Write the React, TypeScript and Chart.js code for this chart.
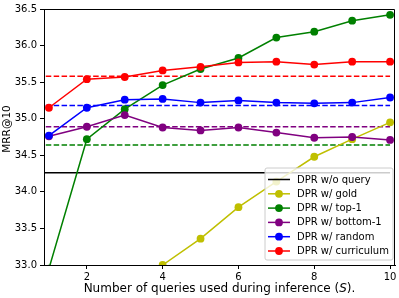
import React, { useEffect, useRef } from "react";
import { Chart, registerables } from "chart.js";

Chart.register(...registerables);

const queriesS = [1, 2, 3, 4, 5, 6, 7, 8, 9, 10];
const goldVals = [null, null, null, 33.0, 33.36, 33.79, 34.14, 34.48, 34.72, 34.95];
const top1Vals = [32.95, 34.72, 35.13, 35.46, 35.68, 35.83, 36.11, 36.19, 36.34, 36.42];
const bottom1Vals = [34.76, 34.89, 35.05, 34.88, 34.84, 34.88, 34.81, 34.74, 34.75, 34.71];
const randomVals = [34.77, 35.15, 35.26, 35.27, 35.22, 35.25, 35.22, 35.21, 35.22, 35.29];
const curriculumVals = [35.15, 35.54, 35.57, 35.66, 35.71, 35.77, 35.78, 35.74, 35.78, 35.78];

const noQueryVal = 34.26;
const top1Ref = 34.64;
const bottom1Ref = 34.89;
const randomRef = 35.18;
const curriculumRef = 35.58;
const refSpan = [0.5, 10];

const xTicks = [2, 4, 6, 8, 10];
const yTickLabels = ["33.0", "33.5", "34.0", "34.5", "35.0", "35.5", "36.0", "36.5"];

const seriesNames = [
  "DPR w/o query",
  "DPR w/ gold",
  "DPR w/ top-1",
  "DPR w/ bottom-1",
  "DPR w/ random",
  "DPR w/ curriculum",
];
const seriesColors = ["#000000", "#bfbf00", "#008000", "#800080", "#0000ff", "#ff0000"];

const FONT = "'DejaVu Sans', sans-serif";

const pts = (vals: (number | null)[]) => queriesS.map((x, i) => ({ x, y: vals[i] }));
const hline = (v: number) => refSpan.map((x) => ({ x, y: v }));

const overlay = {
  id: "overlay",
  afterDraw(chart: any) {
    const { ctx, chartArea } = chart;
    const { left, right, top, bottom } = chartArea;
    ctx.save();
    // frame
    ctx.strokeStyle = "#000";
    ctx.lineWidth = 1;
    ctx.beginPath();
    ctx.moveTo(left, top + 0.5);
    ctx.lineTo(right - 0.5, top + 0.5);
    ctx.lineTo(right - 0.5, bottom);
    ctx.stroke();

    // legend
    const bx = 265, by = 168, bw = 128, bh = 92, r = 2;
    ctx.beginPath();
    ctx.moveTo(bx + r, by);
    ctx.lineTo(bx + bw - r, by);
    ctx.quadraticCurveTo(bx + bw, by, bx + bw, by + r);
    ctx.lineTo(bx + bw, by + bh - r);
    ctx.quadraticCurveTo(bx + bw, by + bh, bx + bw - r, by + bh);
    ctx.lineTo(bx + r, by + bh);
    ctx.quadraticCurveTo(bx, by + bh, bx, by + bh - r);
    ctx.lineTo(bx, by + r);
    ctx.quadraticCurveTo(bx, by, bx + r, by);
    ctx.closePath();
    ctx.fillStyle = "rgba(255,255,255,0.8)";
    ctx.fill();
    ctx.strokeStyle = "#cccccc";
    ctx.lineWidth = 1;
    ctx.stroke();

    ctx.font = `10px ${FONT}`;
    ctx.textBaseline = "middle";
    ctx.textAlign = "left";
    seriesNames.forEach((name, i) => {
      const cy = 179.5 + i * 14.3;
      ctx.strokeStyle = seriesColors[i];
      ctx.lineWidth = 1.5;
      ctx.beginPath();
      ctx.moveTo(268, cy);
      ctx.lineTo(290, cy);
      ctx.stroke();
      if (i > 0) {
        ctx.fillStyle = seriesColors[i];
        ctx.beginPath();
        ctx.arc(279, cy, 3.9, 0, Math.PI * 2);
        ctx.fill();
      }
      ctx.fillStyle = "#000";
      ctx.fillText(name, 297, cy + 0.5);
    });

    // x axis title with italic S
    ctx.fillStyle = "#000";
    ctx.textBaseline = "alphabetic";
    const p1 = "Number of queries used during inference (";
    const p2 = "S";
    const p3 = ").";
    const normal = `12px ${FONT}`;
    const italic = `oblique 12px ${FONT}`;
    ctx.font = normal;
    const w1 = ctx.measureText(p1).width;
    const w3 = ctx.measureText(p3).width;
    ctx.font = italic;
    const w2 = ctx.measureText(p2).width;
    const total = w1 + w2 + w3;
    const x0 = (left + right) / 2 - total / 2;
    const yb = 292;
    ctx.font = normal;
    ctx.fillText(p1, x0, yb);
    ctx.font = italic;
    ctx.fillText(p2, x0 + w1, yb);
    ctx.font = normal;
    ctx.fillText(p3, x0 + w1 + w2, yb);

    // y axis title
    ctx.save();
    ctx.translate(9.5, 129);
    ctx.rotate(-Math.PI / 2);
    ctx.font = `10.5px ${FONT}`;
    ctx.textAlign = "center";
    ctx.textBaseline = "alphabetic";
    ctx.fillText("MRR@10", 0, 0);
    ctx.restore();

    ctx.restore();
  },
};

export default function App() {
  const ref = useRef<HTMLCanvasElement | null>(null);

  useEffect(() => {
    if (!ref.current) return;
    const lineDs = (label: string, vals: (number | null)[], color: string, order: number) => ({
      label,
      data: pts(vals),
      borderColor: color,
      backgroundColor: color,
      borderWidth: 1.5,
      pointRadius: 3.9,
      pointBorderWidth: 0,
      pointBackgroundColor: color,
      spanGaps: false,
      clip: 0,
      order,
    });
    const refDs = (label: string, v: number, color: string, dashed: boolean, order: number) => ({
      label,
      data: hline(v),
      borderColor: color,
      borderWidth: 1.5,
      borderDash: dashed ? [5.5, 2.4] : [],
      pointRadius: 0,
      clip: 0,
      order,
    });

    const chart = new Chart(ref.current, {
      type: "line",
      data: {
        datasets: [
          refDs(seriesNames[0], noQueryVal, seriesColors[0], false, 10),
          lineDs(seriesNames[1], goldVals, seriesColors[1], 9),
          lineDs(seriesNames[2], top1Vals, seriesColors[2], 8),
          lineDs(seriesNames[3], bottom1Vals, seriesColors[3], 7),
          lineDs(seriesNames[4], randomVals, seriesColors[4], 6),
          lineDs(seriesNames[5], curriculumVals, seriesColors[5], 5),
          refDs("top-1 ref", top1Ref, seriesColors[2], true, 14),
          refDs("bottom-1 ref", bottom1Ref, seriesColors[3], true, 13),
          refDs("random ref", randomRef, seriesColors[4], true, 12),
          refDs("curriculum ref", curriculumRef, seriesColors[5], true, 11),
        ] as any,
      },
      options: {
        animation: false,
        responsive: false,
        maintainAspectRatio: false,
        layout: { padding: { top: 3, right: 2, left: 0, bottom: 0 } },
        plugins: {
          legend: { display: false },
          tooltip: { enabled: false },
          title: { display: false },
        },
        scales: {
          x: {
            type: "linear",
            min: 0.87,
            max: 10.13,
            afterBuildTicks: (s: any) => {
              s.ticks = xTicks.map((v) => ({ value: v }));
            },
            afterFit: (s: any) => {
              s.height = 33;
            },
            ticks: {
              color: "#000",
              font: { family: FONT, size: 10 },
              padding: 2,
              maxRotation: 0,
              autoSkip: false,
            },
            grid: {
              drawOnChartArea: false,
              drawTicks: true,
              tickLength: 4,
              color: "#000",
            },
            border: { display: true, color: "#000", width: 1 },
          },
          y: {
            type: "linear",
            min: 33.0,
            max: 36.5,
            afterBuildTicks: (s: any) => {
              s.ticks = yTickLabels.map((t) => ({ value: parseFloat(t) }));
            },
            afterFit: (s: any) => {
              s.width = 44;
            },
            ticks: {
              color: "#000",
              font: { family: FONT, size: 10 },
              padding: 3,
              autoSkip: false,
              callback: (v: any) => Number(v).toFixed(1),
            },
            grid: {
              drawOnChartArea: false,
              drawTicks: true,
              tickLength: 4,
              color: "#000",
            },
            border: { display: true, color: "#000", width: 1 },
          },
        },
      },
      plugins: [overlay],
    });
    return () => chart.destroy();
  }, []);

  return (
    <div style={{ position: "fixed", left: 0, top: 0, width: 399, height: 298, background: "#fff" }}>
      <canvas ref={ref} width={399} height={298} style={{ width: 399, height: 298 }} />
    </div>
  );
}
